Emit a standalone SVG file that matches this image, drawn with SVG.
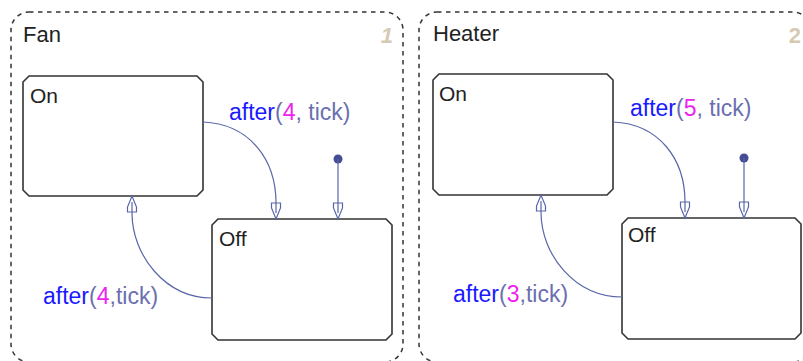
<svg xmlns="http://www.w3.org/2000/svg" width="803" height="361" viewBox="0 0 803 361">
<style>
.chart{fill:none;stroke:#333;stroke-width:1.5;stroke-dasharray:4.5 4.5}
.state{fill:#fff;stroke:#333;stroke-width:1.6}
.cname{font-family:"Liberation Sans",Arial,sans-serif;font-size:22px;fill:#222}
.sname{font-family:"Liberation Sans",Arial,sans-serif;font-size:21px;fill:#222}
.num{font-family:"Liberation Sans",Arial,sans-serif;font-size:22px;font-weight:bold;fill:#d6cab2;text-anchor:end}
.tr{fill:none;stroke:#5866a8;stroke-width:1.2}
.lbl{font-family:"Liberation Sans",Arial,sans-serif;font-size:23px;fill:#6b6fb0}
.kw{fill:#1a1aff}
.n{fill:#ee22ee}
.dot{fill:#454c94}
</style>
<defs>
<marker id="arr" markerUnits="userSpaceOnUse" markerWidth="20" markerHeight="12" viewBox="-1 -6 19 12" refX="16" refY="0" orient="auto" overflow="visible">
<path d="M0,-4.5 L5,-4.5 L16,0 L5,4.5 L0,4.5 Z" fill="#fff" stroke="#5866a8" stroke-width="1.2"/>
<path d="M0,0 L10,0" stroke="#5866a8" stroke-width="1.2"/>
</marker>
</defs>
<g id="Fan">
<rect class="chart" x="11" y="12" width="392" height="350" rx="18"/>
<text class="cname" x="23" y="42">Fan</text>
<text class="num" x="393" y="43" font-style="italic">1</text>
</g>
<g id="Fan_On">
<path class="state" d="M29,76 H197 L203,82 V190 L197,196 H29 L23,190 V82 Z"/>
<text class="sname" x="30" y="103">On</text>
</g>
<g id="Fan_Off">
<path class="state" d="M218,219 H386 L392,225 V334 L386,340 H218 L212,334 V225 Z"/>
<text class="sname" x="219" y="246">Off</text>
</g>
<g id="Heater">
<rect class="chart" x="419" y="12" width="392" height="350" rx="18"/>
<text class="cname" x="433" y="41">Heater</text>
<text class="num" x="801" y="43">2</text>
</g>
<g id="Heater_On">
<path class="state" d="M439,74 H607 L613,80 V189 L607,195 H439 L433,189 V80 Z"/>
<text class="sname" x="439" y="101">On</text>
</g>
<g id="Heater_Off">
<path class="state" d="M628,218 H795 L801,224 V333 L795,339 H628 L622,333 V224 Z"/>
<text class="sname" x="628" y="242">Off</text>
</g>
<g id="connectors">
<path class="tr" d="M203,122 C250,124 276,160 276,203 L276,219" marker-end="url(#arr)"/>
<circle class="dot" cx="338" cy="159" r="4.5"/>
<path class="tr" d="M338,159 L338,219" marker-end="url(#arr)"/>
<path class="tr" d="M212,298 C165,298 132,255 132,213 L132,196" marker-end="url(#arr)"/>
<path class="tr" d="M613,122 C660,124 685,160 685,202 L685,218" marker-end="url(#arr)"/>
<circle class="dot" cx="744" cy="158" r="4.5"/>
<path class="tr" d="M744,158 L744,218" marker-end="url(#arr)"/>
<path class="tr" d="M622,297 C575,297 541,255 541,212 L541,195" marker-end="url(#arr)"/>
<text class="lbl" x="229" y="120"><tspan class="kw">after</tspan>(<tspan class="n">4</tspan>, tick)</text>
<text class="lbl" x="43" y="304"><tspan class="kw">after</tspan>(<tspan class="n">4</tspan>,tick)</text>
<text class="lbl" x="630" y="116"><tspan class="kw">after</tspan>(<tspan class="n">5</tspan>, tick)</text>
<text class="lbl" x="453" y="302"><tspan class="kw">after</tspan>(<tspan class="n">3</tspan>,tick)</text>
</g>
</svg>
